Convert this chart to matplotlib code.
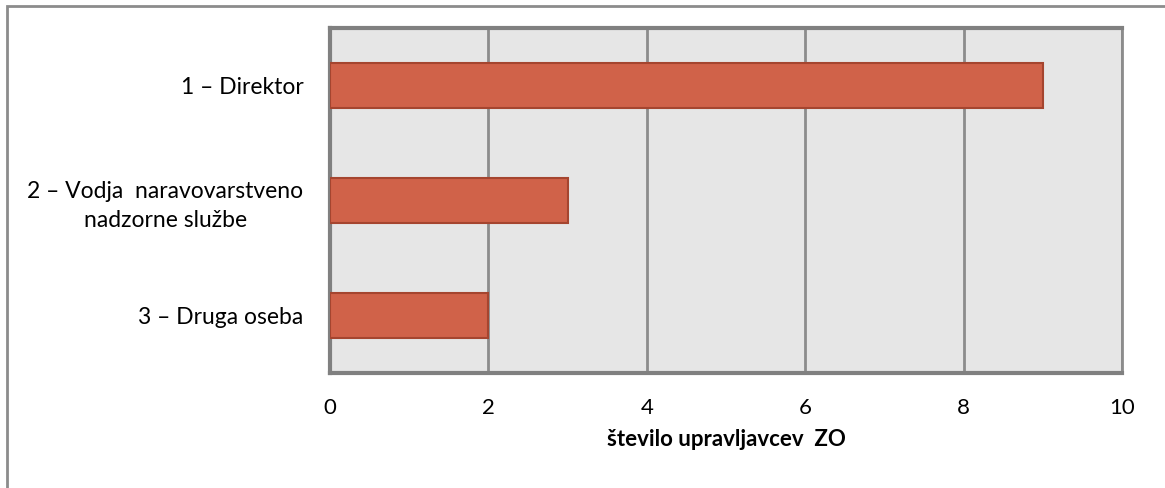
import matplotlib.pyplot as plt
from matplotlib.patches import Rectangle

# ── Data ────────────────────────────────────────────────────
categories = [
    "1 – Direktor",
    "2 – Vodja  naravovarstveno\nnadzorne službe",
    "3 – Druga oseba",
]
values = [9, 3, 2]
x_ticks = [0, 2, 4, 6, 8, 10]
x_label = "število upravljavcev  ZO"

BAR_COLOR  = "#D06249"
EDGE_COLOR = "#A5452F"
BG_COLOR   = "#E6E6E6"
GRID_COLOR = "#8C8C8C"

plt.rcParams["font.family"] = ["Lato", "DejaVu Sans"]

fig = plt.figure(figsize=(11.65, 4.88), dpi=100)
ax = fig.add_axes([330 / 1165, 1 - 373 / 488, (1122 - 330) / 1165, (373 - 28) / 488])

# outer chart border
fig.patches.append(Rectangle((7 / 1165, -0.05), 1.2, 1 - 6 / 488 + 0.05,
                             transform=fig.transFigure, fill=False,
                             edgecolor="#8C8C8C", linewidth=2))

ypos = list(range(len(categories)))
ax.barh(ypos, values, height=0.39, color=BAR_COLOR, edgecolor=EDGE_COLOR,
        linewidth=1.5, zorder=3)

ax.set_facecolor(BG_COLOR)
ax.set_xlim(0, 10)
ax.set_ylim(len(categories) - 0.5, -0.5)
ax.set_xticks(x_ticks)
ax.set_xticklabels([str(t) for t in x_ticks], fontsize=16)
ax.set_yticks(ypos)
ax.set_yticklabels(categories, fontsize=16.5, multialignment="center",
                   linespacing=1.45)
ax.tick_params(axis="both", length=0)
ax.tick_params(axis="x", pad=18)
ax.tick_params(axis="y", pad=19)

ax.grid(axis="x", color=GRID_COLOR, linewidth=2, zorder=1)
ax.set_axisbelow(True)

for side in ["left", "bottom", "top"]:
    ax.spines[side].set_color("#808080")
    ax.spines[side].set_linewidth(3)
ax.spines["right"].set_color(GRID_COLOR)
ax.spines["right"].set_linewidth(2)

ax.set_xlabel(x_label, fontsize=16, fontweight="bold", labelpad=8)

fig.savefig("out.png", dpi=100, facecolor="white")
